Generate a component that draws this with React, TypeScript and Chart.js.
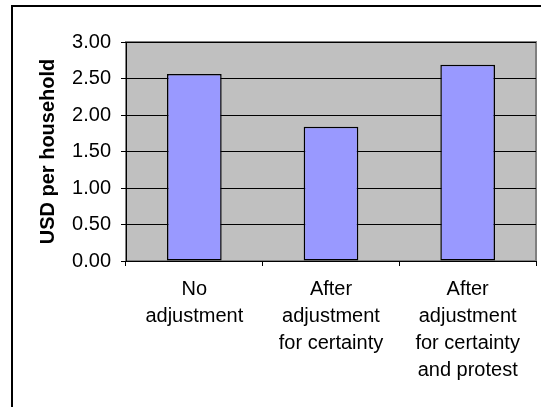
import React, { useEffect, useRef } from "react";
import { Chart, registerables } from "chart.js";

Chart.register(...registerables);

const categories: string[][] = [
  ["No", "adjustment"],
  ["After", "adjustment", "for certainty"],
  ["After", "adjustment", "for certainty", "and protest"],
];
const values: number[] = [2.56, 1.84, 2.69];
const yTitle = "USD per household";
const yMin = 0;
const yMax = 3;
const yStep = 0.5;

const FONT = "'Liberation Sans', Arial, sans-serif";

const framePlugin = {
  id: "framePlugin",
  beforeDraw(chart: any) {
    const { ctx, chartArea } = chart;
    ctx.save();
    ctx.fillStyle = "#ffffff";
    ctx.fillRect(0, 0, chart.width, chart.height);
    // outer frame (cropped on right and bottom)
    ctx.strokeStyle = "#000000";
    ctx.lineWidth = 2;
    ctx.strokeRect(12, 6, chart.width + 20, chart.height + 20);
    // plot area
    ctx.fillStyle = "#C0C0C0";
    ctx.fillRect(chartArea.left, chartArea.top, chartArea.right - chartArea.left, chartArea.bottom - chartArea.top);
    ctx.strokeStyle = "#808080";
    ctx.lineWidth = 2;
    ctx.strokeRect(chartArea.left, chartArea.top, chartArea.right - chartArea.left, chartArea.bottom - chartArea.top);
    ctx.restore();
  },
};

export default function App() {
  const ref = useRef<HTMLCanvasElement | null>(null);
  useEffect(() => {
    if (!ref.current) return;
    const chart = new Chart(ref.current, {
      type: "bar",
      data: {
        labels: categories,
        datasets: [
          {
            data: values,
            backgroundColor: "#9999FF",
            borderColor: "#000000",
            borderWidth: 1.5,
            borderSkipped: false,
            barPercentage: 0.4,
            categoryPercentage: 1.0,
          },
        ],
      },
      options: {
        responsive: false,
        animation: false,
        devicePixelRatio: 1,
        layout: { padding: { left: 0, top: 42, right: 5, bottom: 0 } },
        plugins: { legend: { display: false }, tooltip: { enabled: false } },
        scales: {
          x: {
            offset: true,
            grid: {
              display: true,
              offset: true,
              drawOnChartArea: false,
              drawTicks: true,
              tickLength: 5,
              color: "#000000",
            },
            border: { display: true, color: "#000000", width: 1 },
            ticks: {
              color: "#000000",
              font: { family: FONT, size: 20, lineHeight: 1.35 },
              maxRotation: 0,
              autoSkip: false,
              padding: 10,
            },
            afterFit(scale: any) {
              scale.height = 146;
            },
          },
          y: {
            min: yMin,
            max: yMax,
            grid: { color: "#000000", tickLength: 5, lineWidth: 1 },
            border: { display: true, color: "#000000", width: 1 },
            ticks: {
              stepSize: yStep,
              color: "#000000",
              font: { family: FONT, size: 20 },
              padding: 10,
              callback: (v: any) => Number(v).toFixed(2),
            },
            title: {
              display: true,
              text: yTitle,
              color: "#000000",
              font: { family: FONT, size: 20, weight: "bold" },
              padding: { top: 36, bottom: 0 },
            },
            afterFit(scale: any) {
              scale.width = 126;
            },
          },
        },
      },
      plugins: [framePlugin],
    } as any);
    return () => chart.destroy();
  }, []);
  return (
    <div style={{ position: "fixed", left: 0, top: 0, width: 541, height: 407, background: "#fff" }}>
      <canvas ref={ref} width={541} height={407} style={{ display: "block" }} />
    </div>
  );
}
